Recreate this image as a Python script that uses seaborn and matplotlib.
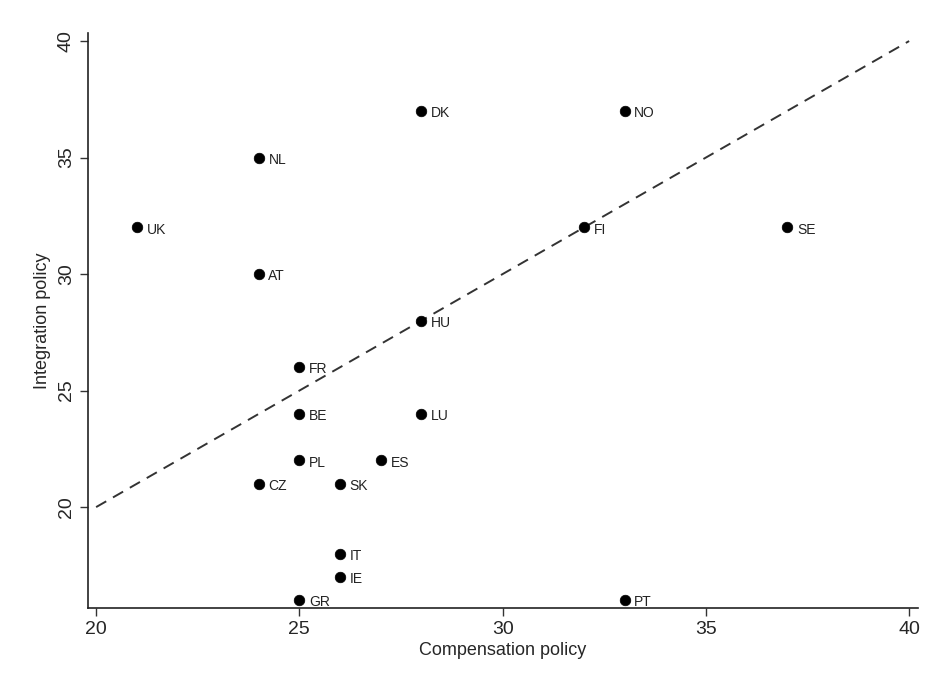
import matplotlib
matplotlib.use("Agg")
import matplotlib.pyplot as plt
import seaborn as sns
import pandas as pd

countries = ["UK", "NL", "AT", "CZ", "DK", "NO", "FI", "SE", "HU", "FR",
             "BE", "LU", "PL", "ES", "SK", "IT", "IE", "GR", "PT"]
compensation = [21, 24, 24, 24, 28, 33, 32, 37, 28, 25,
                25, 28, 25, 27, 26, 26, 26, 25, 33]
integration = [32, 35, 30, 21, 37, 37, 32, 32, 28, 26,
               24, 24, 22, 22, 21, 18, 17, 16, 16]
line_x = [20, 40]
line_y = [20, 40]
x_ticks = [20, 25, 30, 35, 40]
y_ticks = [20, 25, 30, 35, 40]

df = pd.DataFrame({"country": countries, "comp": compensation, "integ": integration})

sns.set_style("ticks")
plt.rcParams["font.family"] = ["Liberation Sans", "DejaVu Sans"]

fig = plt.figure(figsize=(9.33, 6.86), dpi=100)
ax = fig.add_axes([0.0943, 0.1137, 0.8897, 0.838])

sns.lineplot(x=line_x, y=line_y, ax=ax, color="#333333", linestyle=(0, (6, 4)),
             linewidth=1.4)
sns.scatterplot(data=df, x="comp", y="integ", ax=ax, color="black", s=58,
                edgecolor="black", linewidth=0.5, zorder=3)
for c, xv, yv in zip(countries, compensation, integration):
    ax.annotate(c, (xv, yv), xytext=(7, -1.5), textcoords="offset points",
                ha="left", va="center", fontsize=10, color="#222222")

ax.set_xlim(19.8, 40.22)
ax.set_ylim(15.67, 40.34)
ax.set_xticks(x_ticks)
ax.set_yticks(y_ticks)
ax.set_xticklabels([str(t) for t in x_ticks], fontsize=14)
ax.set_yticklabels([str(t) for t in y_ticks], fontsize=14, rotation=90, va="center")
ax.tick_params(axis="both", direction="out", length=6, width=1, color="#333333")
ax.set_xlabel("Compensation policy", fontsize=13, labelpad=3)
ax.set_ylabel("Integration policy", fontsize=13, labelpad=5)
sns.despine(ax=ax)
for sp in ["left", "bottom"]:
    ax.spines[sp].set_linewidth(1.2)
    ax.spines[sp].set_color("#222222")

fig.savefig("out.png", dpi=100)
